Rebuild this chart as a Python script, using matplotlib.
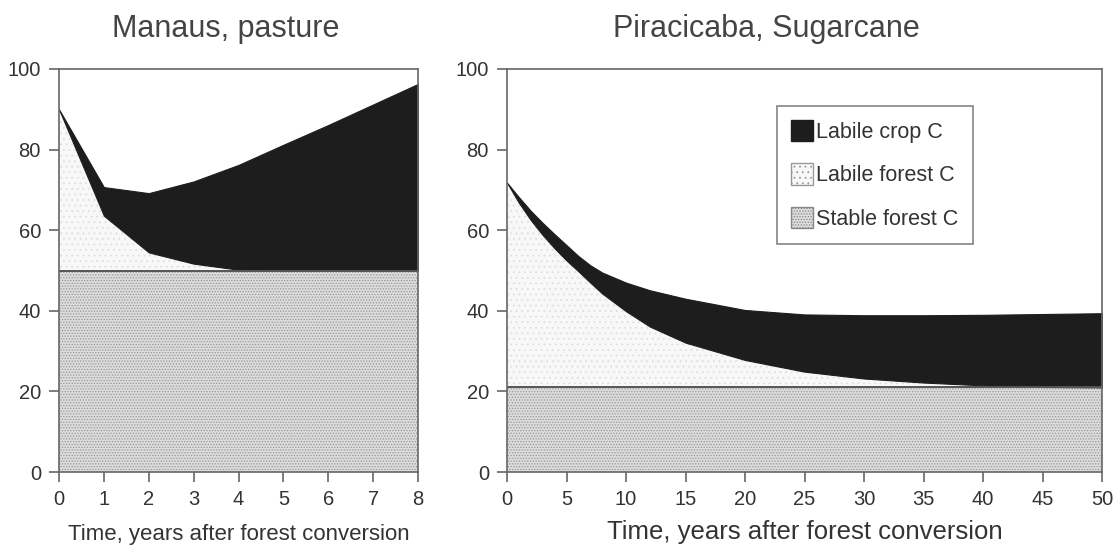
import numpy as np
import matplotlib.pyplot as plt
from matplotlib.patches import Patch

# Manaus, pasture
years_man = [0, 1, 2, 3, 4, 5, 6, 7, 8]
total_man = [90, 70.7, 69.2, 72.1, 76.2, 81.2, 86.1, 91.2, 96.3]
forest_top_man = [90, 63.6, 54.5, 51.7, 50.2, 50, 50, 50, 50]
stable_man = 50

# Piracicaba, sugarcane
years_pir = [0, 1, 2, 3, 4, 5, 6, 7, 8, 10, 12, 15, 20, 25, 30, 35, 40, 45, 50]
total_pir = [71.8, 68.2, 64.8, 61.8, 59.0, 56.3, 53.6, 51.3, 49.5, 47.0, 45.1, 43.0,
             40.2, 39.1, 38.9, 38.9, 39.0, 39.2, 39.4]
forest_top_pir = [71.8, 66.8, 62.5, 58.8, 55.5, 52.5, 49.8, 47.0, 44.3, 39.9, 36.1, 32.1,
                  27.8, 24.9, 23.2, 22.2, 21.5, 21.1, 21.0]
stable_pir = 21

legend_labels = ["Labile crop C", "Labile forest C", "Stable forest C"]

crop_col = "#1d1d1d"
stable_style = dict(facecolor="#dcdcdc", edgecolor="#969696", hatch="......", linewidth=0)
labile_style = dict(facecolor="#f8f8f8", edgecolor="#dedede", hatch="...", linewidth=0)
spine_col = "#666666"
text_col = "#333333"

plt.rcParams['font.family'] = ['Liberation Sans', 'DejaVu Sans']
plt.rcParams['hatch.linewidth'] = 0.6
fig = plt.figure(figsize=(11.15, 5.45), dpi=100)
ax1 = fig.add_axes([59/1115, 1-472/545, 359/1115, 403/545])
ax2 = fig.add_axes([507/1115, 1-472/545, 595/1115, 403/545])


def draw(ax, t, total, top, stable, xmax, step, tsize):
    t = np.array(t)
    ax.fill_between(t, 0, stable, **stable_style)
    ax.fill_between(t, stable, top, **labile_style)
    ax.fill_between(t, top, total, facecolor=crop_col, edgecolor=crop_col, linewidth=0.8)
    ax.plot([0, xmax], [stable, stable], color="#555555", lw=1.4)
    ax.set_xlim(0, xmax)
    ax.set_ylim(0, 100)
    ax.set_xticks(np.arange(0, xmax + 1, step))
    ax.set_yticks([0, 20, 40, 60, 80, 100])
    for s in ax.spines.values():
        s.set_color(spine_col)
        s.set_linewidth(1.2)
    ax.tick_params(direction='out', length=7, width=1.2, color=spine_col,
                   labelsize=tsize, labelcolor=text_col, pad=6)


draw(ax1, years_man, total_man, forest_top_man, stable_man, 8, 1, 14.5)
draw(ax2, years_pir, total_pir, forest_top_pir, stable_pir, 50, 5, 14.5)

ax1.set_xlabel("Time, years after forest conversion", fontsize=16, color=text_col,
               labelpad=11)
ax2.set_xlabel("Time, years after forest conversion", fontsize=18.5, color=text_col,
               labelpad=8)

fig.text(226/1115, 1-29/545, "Manaus, pasture", ha='center', va='center',
         fontsize=22, color="#444444")
fig.text(766/1115, 1-29/545, "Piracicaba, Sugarcane", ha='center', va='center',
         fontsize=22, color="#444444")

handles = [Patch(facecolor=crop_col, edgecolor=crop_col),
           Patch(facecolor="#f8f8f8", edgecolor="#999999", hatch="...", linewidth=1),
           Patch(facecolor="#dcdcdc", edgecolor="#888888", hatch="......", linewidth=1)]
leg = ax2.legend(handles, legend_labels, loc='upper left', bbox_to_anchor=(0.453, 0.908),
                 fontsize=15.5, frameon=True, fancybox=False, edgecolor="#666666",
                 handlelength=1.05, handleheight=1.15, handletextpad=0.15,
                 labelspacing=0.95, borderpad=0.65, borderaxespad=0)
leg.get_frame().set_linewidth(1.2)
for txt in leg.get_texts():
    txt.set_color(text_col)

plt.savefig("out.png", dpi=100)
